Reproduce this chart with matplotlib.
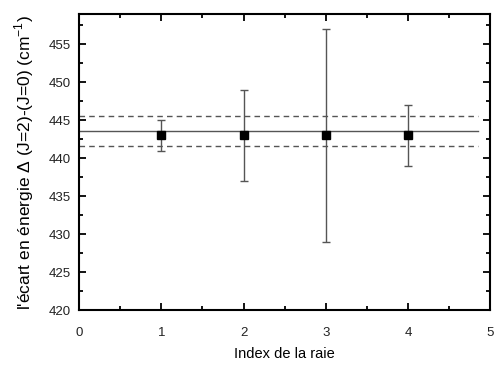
import numpy as np
import matplotlib
matplotlib.use('Agg')
from matplotlib import pyplot as plt
from matplotlib.ticker import MultipleLocator

plt.rcParams['font.family'] = ['Liberation Sans', 'DejaVu Sans']

# data
raie = [1, 2, 3, 4]
ecart = [443.0, 443.0, 443.0, 443.0]
erreur = [2.0, 6.0, 14.0, 4.0]
moyenne = 443.6
bande = [441.55, 445.55]
x_ligne = [0, 4.85]

fig = plt.figure(figsize=(4.95, 3.67), dpi=100)
ax = fig.add_axes([0.16, 0.155, 0.83, 0.807])

ax.plot(x_ligne, [moyenne, moyenne], color='#555555', linewidth=1.0)
for b in bande:
    ax.plot(x_ligne, [b, b], color='#555555', linewidth=1.0, linestyle=(0, (4, 3)))

ax.errorbar(raie, ecart, yerr=erreur, fmt='s', color='black', markersize=6,
            ecolor='#555555', elinewidth=1.0, capsize=3, capthick=1.0)

ax.set_xlim(0, 5)
ax.set_ylim(420, 459)
ax.xaxis.set_major_locator(MultipleLocator(1))
ax.xaxis.set_minor_locator(MultipleLocator(0.5))
ax.yaxis.set_major_locator(MultipleLocator(5))
ax.yaxis.set_minor_locator(MultipleLocator(2.5))
ax.tick_params(which='both', direction='in', top=True, right=True, labelsize=9.5,
               width=1.3, labelcolor='#222222')
ax.tick_params(which='major', length=5)
ax.tick_params(which='minor', length=3)
ax.tick_params(axis='x', which='major', pad=12)
ax.tick_params(axis='y', which='major', pad=6)
for s in ax.spines.values():
    s.set_linewidth(1.5)

ax.set_xlabel('Index de la raie', fontsize=10.5, labelpad=6)
ax.set_ylabel("l'écart en énergie \u0394 (J=2)-(J=0) (cm$^{\\mathregular{-1}}$)",
              fontsize=12.5, labelpad=9)

fig.savefig('out.png', dpi=100)
